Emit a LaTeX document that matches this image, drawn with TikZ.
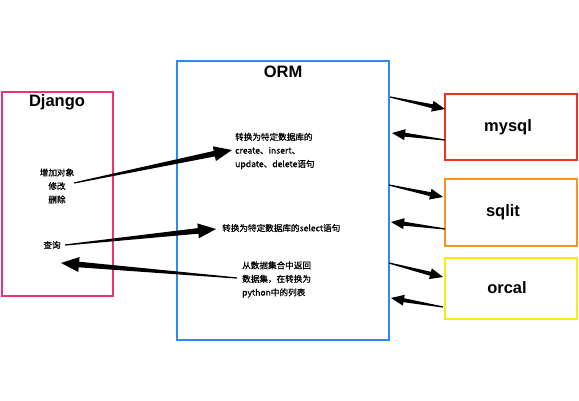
\documentclass[tikz,border=0pt]{standalone}
\usepackage{fontspec}
\setmainfont{Liberation Sans}
\newfontfamily\cjk[FakeBold=0.7]{Noto Sans CJK SC}
\usetikzlibrary{calc}
\definecolor{djc}{HTML}{F0336E}
\definecolor{ormc}{HTML}{2A8CF0}
\definecolor{myc}{HTML}{F2301E}
\definecolor{sqc}{HTML}{F7941E}
\definecolor{orc}{HTML}{FFE81A}
\begin{document}
\begin{tikzpicture}[x=1pt,y=-1pt,
  box/.style={draw, line width=1.8pt, inner sep=0pt},
  title/.style={font=\bfseries\fontsize{16.5}{18}\selectfont, inner sep=0pt},
  lbl/.style={font=\cjk\fontsize{8.6}{13.5}\selectfont, inner sep=0pt},
  taper/.style n args={4}{to path={
    ($(\tikztotarget)!#1!(\tikztostart)$) coordinate (tH)
    ($(\tikztostart)!#4!90:(\tikztotarget)$)
    -- ($(tH)!#3!-90:(\tikztostart)$)
    -- ($(tH)!#2!-90:(\tikztostart)$)
    -- (\tikztotarget)
    -- ($(tH)!#2!90:(\tikztostart)$)
    -- ($(tH)!#3!90:(\tikztostart)$)
    -- ($(\tikztostart)!#4!-90:(\tikztotarget)$)
    -- cycle}},
  bigarrow/.style={fill=black, taper={18pt}{7.5pt}{2.8pt}{0.6pt}},
  smallarrow/.style={fill=black, taper={13pt}{5.5pt}{2pt}{0.6pt}}
]
\useasboundingbox (0,0) rectangle (579,401);

% boxes
\node[box, draw=djc, minimum width=111pt, minimum height=204pt] (django) at (57.5,194) {};
\node[box, draw=ormc, minimum width=212pt, minimum height=279pt] (orm) at (283,200.5) {};
\node[box, draw=myc, minimum width=132pt, minimum height=66pt] (mysql) at (511,127) {};
\node[box, draw=sqc, minimum width=132pt, minimum height=67pt] (sqlit) at (511,212.5) {};
\node[box, draw=orc, minimum width=132pt, minimum height=61pt] (orcal) at (511,288.5) {};

% titles
\node[title] (djt) at (57,102) {Django};
\node[title] (ormt) at (283,72) {ORM};
\node[title] (myt) at (508,127) {mysql};
\node[title] (sqt) at (503,212) {sqlit};
\node[title] (ort) at (507,288) {orcal};

% labels
\node[lbl, align=center] (ops) at (57,186) {增加对象\\修改\\删除};
\node[lbl] (query) at (52,245) {查询};
\node[lbl, align=left, anchor=west] (t1) at (235,151) {转换为特定数据库的\\create、insert、\\update、delete语句};
\node[lbl, anchor=west] (t2) at (222,228) {转换为特定数据库的select语句};
\node[lbl, align=left, anchor=west] (t3) at (242,279.5) {从数据集合中返回\\数据集，在转换为\\python中的列表};

% arrow end points
\coordinate (a1s) at (74,183);  \coordinate (a1e) at (232,150);
\coordinate (a2s) at (65,245);  \coordinate (a2e) at (216,229);
\coordinate (a3s) at (237,278); \coordinate (a3e) at (61,263);
\coordinate (r1s) at (390,97);  \coordinate (r1e) at (445,109);
\coordinate (b1s) at (445,140); \coordinate (b1e) at (392,133);
\coordinate (r2s) at (389,185); \coordinate (r2e) at (443,197);
\coordinate (b2s) at (445,229); \coordinate (b2e) at (391,222);
\coordinate (r3s) at (389,263); \coordinate (r3e) at (443,277);
\coordinate (b3s) at (443,307); \coordinate (b3e) at (391,298);

% arrows
\fill[bigarrow] (a1s) to (a1e);
\fill[bigarrow] (a2s) to (a2e);
\fill[bigarrow] (a3s) to (a3e);
\fill[smallarrow] (r1s) to (r1e);
\fill[smallarrow] (b1s) to (b1e);
\fill[smallarrow] (r2s) to (r2e);
\fill[smallarrow] (b2s) to (b2e);
\fill[smallarrow] (r3s) to (r3e);
\fill[smallarrow] (b3s) to (b3e);
\end{tikzpicture}
\end{document}
